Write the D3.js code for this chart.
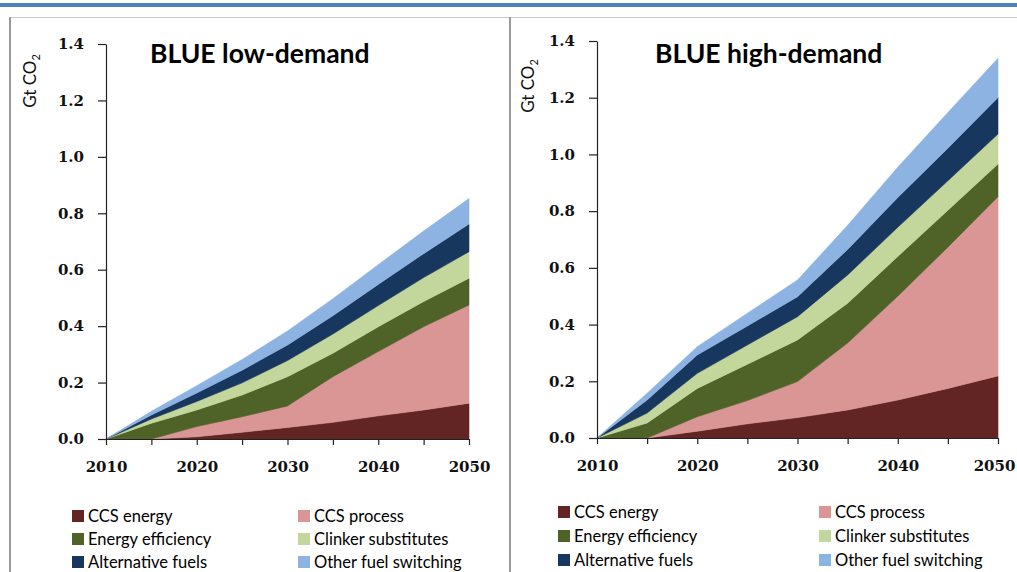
<!DOCTYPE html>
<html><head><meta charset="utf-8">
<script src="https://cdn.jsdelivr.net/npm/d3@7"></script>
<style>
body{margin:0;background:#fff;}
svg{display:block;}
</style></head>
<body>
<svg id="c" width="1017" height="572"></svg>
<script>
// ---------- DATA ----------
const years = [2010, 2015, 2020, 2025, 2030, 2035, 2040, 2045, 2050];
const seriesNames = ["CCS energy", "CCS process", "Energy efficiency", "Clinker substitutes", "Alternative fuels", "Other fuel switching"];
const seriesColors = ["#632523", "#d99694", "#4f6228", "#c3d69b", "#17375e", "#8db3e2"];
const yTicks = [0, 0.2, 0.4, 0.6, 0.8, 1.0, 1.2, 1.4];
const xTicks = [2010, 2015, 2020, 2025, 2030, 2035, 2040, 2045, 2050];
const xLabels = [2010, 2020, 2030, 2040, 2050];
const titles = ["BLUE low-demand", "BLUE high-demand"];

// BLUE low-demand (Gt CO2)
const lowCcsEnergy   = [0, 0, 0.008, 0.024, 0.041, 0.059, 0.082, 0.103, 0.127];
const lowCcsProcess  = [0, 0, 0.036, 0.055, 0.076, 0.162, 0.228, 0.295, 0.348];
const lowEfficiency  = [0, 0.056, 0.059, 0.077, 0.104, 0.083, 0.088, 0.089, 0.095];
const lowClinker     = [0, 0.015, 0.030, 0.043, 0.057, 0.068, 0.075, 0.085, 0.094];
const lowAltFuels    = [0, 0.014, 0.030, 0.045, 0.055, 0.065, 0.075, 0.085, 0.098];
const lowOtherFuel   = [0, 0.013, 0.026, 0.038, 0.050, 0.060, 0.070, 0.080, 0.090];

// BLUE high-demand (Gt CO2)
const highCcsEnergy  = [0, 0, 0.024, 0.050, 0.072, 0.099, 0.134, 0.175, 0.219];
const highCcsProcess = [0, 0, 0.051, 0.082, 0.127, 0.236, 0.366, 0.498, 0.632];
const highEfficiency = [0, 0.053, 0.100, 0.128, 0.147, 0.140, 0.140, 0.130, 0.115];
const highClinker    = [0, 0.035, 0.053, 0.068, 0.082, 0.100, 0.103, 0.104, 0.106];
const highAltFuels   = [0, 0.046, 0.065, 0.067, 0.070, 0.090, 0.105, 0.115, 0.129];
const highOtherFuel  = [0, 0.024, 0.029, 0.045, 0.059, 0.085, 0.107, 0.126, 0.138];

const lowSeries  = [lowCcsEnergy, lowCcsProcess, lowEfficiency, lowClinker, lowAltFuels, lowOtherFuel];
const highSeries = [highCcsEnergy, highCcsProcess, highEfficiency, highClinker, highAltFuels, highOtherFuel];

// ---------- LAYOUT ----------
const svg = d3.select("#c");
const panels = [
  {series: lowSeries,  title: titles[0], x0: 106, x1: 469, yTop: 44, yBot: 439,
   titleX: 150, titleY: 63, ylabX: 30, ylabY: 81,
   legX: [72, 298], legY: [516, 539, 562]},
  {series: highSeries, title: titles[1], x0: 597, x1: 998, yTop: 41, yBot: 438,
   titleX: 655, titleY: 63, ylabX: 528, ylabY: 86,
   legX: [558, 819], legY: [512, 536, 560]}
];

// top blue rule and frames
svg.append("rect").attr("x", 0).attr("y", 3).attr("width", 1017).attr("height", 4).attr("fill", "#4f81bd");
svg.append("line").attr("x1", 10).attr("x2", 1017).attr("y1", 17.5).attr("y2", 17.5).attr("stroke", "#c8c8c8").attr("stroke-width", 1);
svg.append("line").attr("x1", 10).attr("x2", 10).attr("y1", 17).attr("y2", 572).attr("stroke", "#9a9a9a").attr("stroke-width", 2);
svg.append("line").attr("x1", 510).attr("x2", 510).attr("y1", 17).attr("y2", 572).attr("stroke", "#9a9a9a").attr("stroke-width", 2);

panels.forEach((p, pi) => {
  const g = svg.append("g");
  const x = d3.scaleLinear().domain([2010, 2050]).range([p.x0, p.x1]);
  const y = d3.scaleLinear().domain([0, 1.4]).range([p.yBot, p.yTop]);

  const rows = years.map((yr, i) => {
    const r = {year: yr};
    seriesNames.forEach((n, k) => r[n] = p.series[k][i]);
    return r;
  });
  const stacked = d3.stack().keys(seriesNames)(rows);
  const area = d3.area()
    .x(d => x(d.data.year))
    .y0(d => y(d[0]))
    .y1(d => y(d[1]));
  g.selectAll("path.layer").data(stacked).enter().append("path")
    .attr("class", "layer")
    .attr("d", area)
    .attr("fill", (d, i) => seriesColors[i])
    .attr("stroke", (d, i) => seriesColors[i])
    .attr("stroke-width", 0.6);

  // axes
  const yAxis = d3.axisLeft(y).tickValues(yTicks).tickFormat(d3.format(".1f"))
    .tickSize(8).tickSizeOuter(0).tickPadding(14);
  const ya = g.append("g").attr("transform", `translate(${p.x0},0)`).call(yAxis);
  const xAxis = d3.axisBottom(x).tickValues(xTicks)
    .tickFormat(d => xLabels.includes(d) ? String(d) : "")
    .tickSize(6).tickSizeOuter(0).tickPadding(16);
  const xa = g.append("g").attr("transform", `translate(0,${p.yBot})`).call(xAxis);
  [ya, xa].forEach(a => {
    a.selectAll("path.domain").attr("stroke", "#222").attr("stroke-width", 1.2);
    a.selectAll(".tick line").attr("stroke", "#222").attr("stroke-width", 1.2);
    a.selectAll("text").attr("fill", "#111")
      .style("font-family", "'DejaVu Serif', serif").style("font-size", "15px").style("font-weight", "bold");
  });
  if (pi === 1) {
    xa.selectAll(".tick text").filter(d => d === 2050).attr("dx", -4);
  }

  // title
  g.append("text").attr("x", p.titleX).attr("y", p.titleY).text(p.title)
    .style("font-family", "Lato, 'Open Sans', sans-serif").style("font-size", "26.5px").style("font-weight", "bold")
    .attr("fill", "#000");

  // y label
  const yl = g.append("text").attr("transform", `translate(${p.ylabX},${p.ylabY}) rotate(-90)`)
    .attr("text-anchor", "middle").attr("dy", "0.35em")
    .style("font-family", "Lato, 'Open Sans', sans-serif").style("font-size", "17px").attr("fill", "#111");
  yl.append("tspan").text("Gt CO");
  yl.append("tspan").text("2").attr("dy", "4").style("font-size", "11px");

  // legend
  seriesNames.forEach((n, k) => {
    const col = k % 2, row = Math.floor(k / 2);
    const lx = p.legX[col], ly = p.legY[row];
    g.append("rect").attr("x", lx).attr("y", ly - 6).attr("width", 12).attr("height", 12).attr("fill", seriesColors[k]);
    g.append("text").attr("x", lx + 16).attr("y", ly).attr("dy", "0.35em").text(n)
      .style("font-family", "Lato, 'Open Sans', sans-serif").style("font-size", "16.5px").attr("fill", "#000");
  });
});
</script>
</body></html>
